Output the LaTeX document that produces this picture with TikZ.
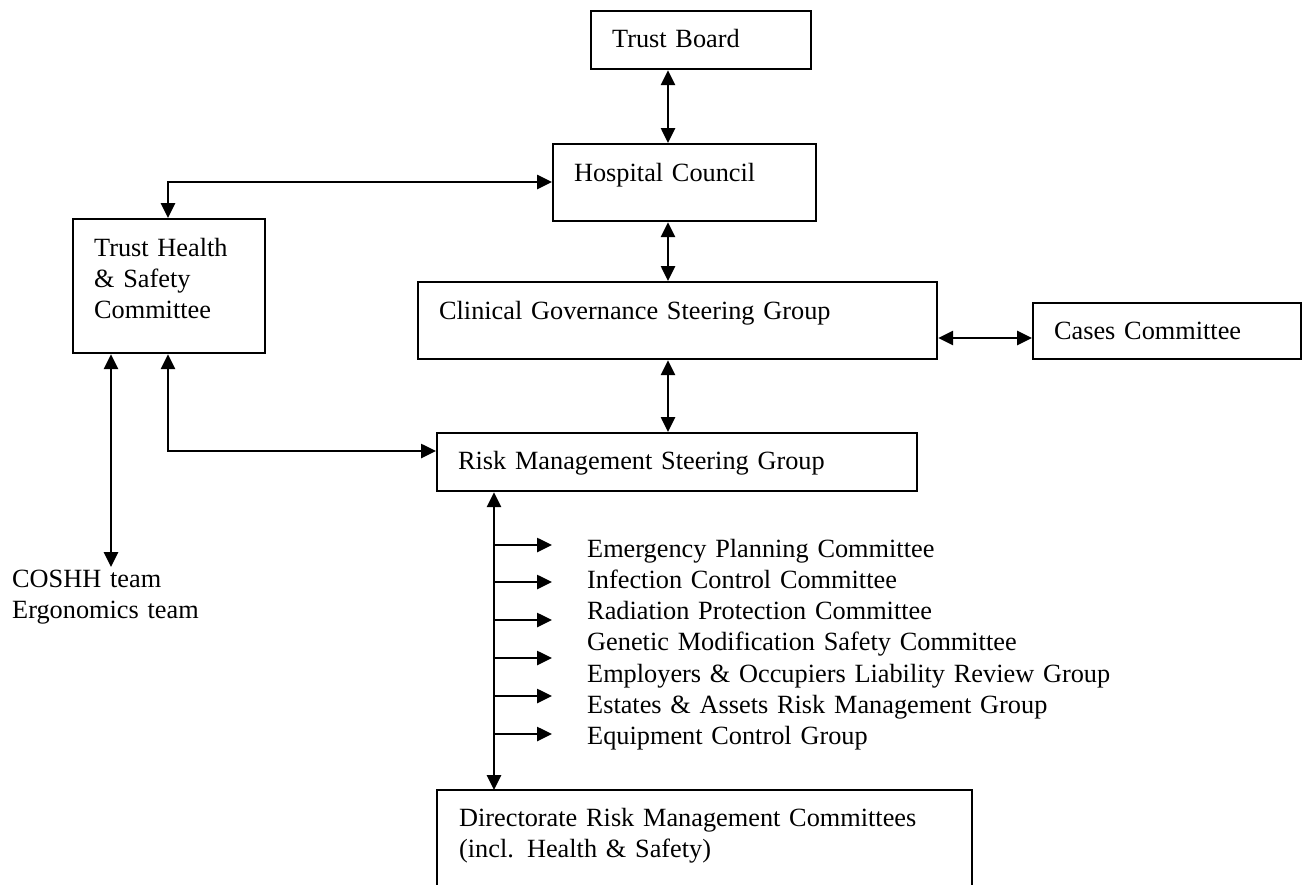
\documentclass[tikz,border=0pt]{standalone}
\usepackage{fontspec}
\setmainfont{Liberation Serif}
\usetikzlibrary{arrows.meta}
\begin{document}
\begin{tikzpicture}[x=1pt,y=-1pt,
  every node/.style={font=\fontsize{26.3pt}{31.2pt}\selectfont},
  box/.style={draw, line width=2.2pt, anchor=north west, inner xsep=21pt, inner ysep=0pt, align=left, text height=18pt},
  plain/.style={anchor=north west, inner sep=0pt, align=left, text height=18pt, text depth=6pt},
  tip/.tip={Triangle[length=15pt,width=14pt]},
  dbl/.style={line width=2.6pt, tip-tip},
  sgl/.style={line width=2.6pt, -tip}]
\useasboundingbox (0,0) rectangle (1308,884);
\fill[white] (0,0) rectangle (1308,884);

% boxes
\node[box, text width=178pt, minimum height=58pt, text depth=4pt] (tb) at (590,10) {Trust Board};
\node[box, text width=221pt, minimum height=77pt, text depth=21pt] (hc) at (552,143) {Hospital Council};
\node[box, text width=150pt, minimum height=134pt, text depth=78pt] (ths) at (72,218) {Trust Health\\ \& Safety\\ Committee};
\node[box, text width=477pt, minimum height=77pt, text depth=21pt] (cg) at (417,281) {Clinical Governance Steering Group};
\node[box, text width=226pt, minimum height=56pt, text depth=2pt] (cases) at (1032,302) {Cases Committee};
\node[box, text width=438pt, minimum height=58pt, text depth=4pt] (rm) at (436,432) {Risk Management Steering Group};
\node[box, draw=none, text width=491pt, minimum height=105pt, text depth=53pt] (dir) at (437,790) {Directorate Risk Management Committees\\ (incl. Health \& Safety)};
\draw[line width=2.2pt] (dir.south west) -- (dir.north west) -- (dir.north east) -- (dir.south east);

% free texts
\node[plain, text width=560pt] (list) at (587,539) {Emergency Planning Committee\\ Infection Control Committee\\ Radiation Protection Committee\\ Genetic Modification Safety Committee\\ Employers \& Occupiers Liability Review Group\\ Estates \& Assets Risk Management Group\\ Equipment Control Group};
\node[plain, text width=230pt] (coshh) at (12,569) {COSHH team\\ Ergonomics team};

% helper coordinates
\coordinate (ax) at (668,0);
\coordinate (c1) at (168,182);
\coordinate (c2) at (0,338);
\coordinate (c3) at (168,451);
\coordinate (c4) at (111,567);
\coordinate (c5) at (494,0);

% connectors
\draw[dbl] (ax |- tb.south) -- (ax |- hc.north);
\draw[dbl] (c1 -| hc.west) -- (c1) -- (c1 |- ths.north);
\draw[dbl] (ax |- hc.south) -- (ax |- cg.north);
\draw[dbl] (c2 -| cg.east) -- (c2 -| cases.west);
\draw[dbl] (ax |- cg.south) -- (ax |- rm.north);
\draw[dbl] (c3 |- ths.south) -- (c3) -- (c3 -| rm.west);
\draw[dbl] (c4 |- ths.south) -- (c4);
\draw[dbl] (c5 |- rm.south) -- (c5 |- dir.north);

% branch arrows to the committees
\foreach \i/\yy in {1/545,2/582,3/620,4/658,5/696,6/734}{
  \coordinate (b\i) at (552,\yy);
  \draw[sgl] (b\i -| c5) -- (b\i);
}
\end{tikzpicture}
\end{document}
